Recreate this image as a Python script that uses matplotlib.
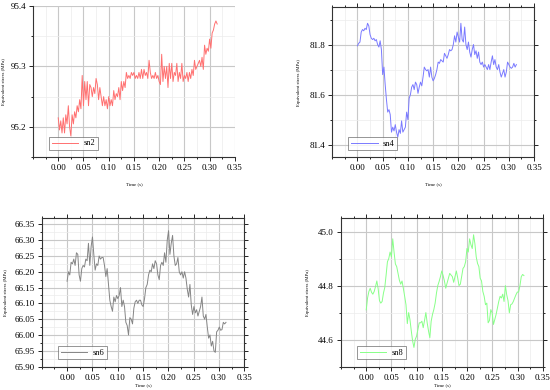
import matplotlib
matplotlib.use('Agg')
import matplotlib.pyplot as plt
import numpy as np
from matplotlib.ticker import MultipleLocator, FormatStrFormatter

plt.rcParams['font.family'] = ['Liberation Serif', 'DejaVu Serif']

# equivalent stress at point sn2 (MPa)
sn2 = [95.215, 95.195, 95.21, 95.19, 95.215, 95.19, 95.22, 95.205, 95.235, 95.20,
       95.185, 95.22, 95.205, 95.225, 95.215, 95.235, 95.225, 95.245, 95.23, 95.285,
       95.235, 95.275, 95.245, 95.275, 95.235, 95.27, 95.265, 95.25, 95.265, 95.255,
       95.28, 95.27, 95.245, 95.265, 95.25, 95.235, 95.25, 95.235, 95.245, 95.23,
       95.25, 95.235, 95.245, 95.235, 95.26, 95.245, 95.255, 95.25, 95.265, 95.245,
       95.275, 95.26, 95.275, 95.265, 95.29, 95.28, 95.285, 95.28, 95.29, 95.285,
       95.29, 95.28, 95.285, 95.28, 95.29, 95.28, 95.295, 95.28, 95.295, 95.285,
       95.29, 95.28, 95.31, 95.29, 95.28, 95.285, 95.28, 95.29, 95.28, 95.285,
       95.275, 95.27, 95.32, 95.275, 95.30, 95.28, 95.30, 95.265, 95.305, 95.28,
       95.305, 95.275, 95.29, 95.285, 95.305, 95.275, 95.29, 95.28, 95.305, 95.275,
       95.285, 95.28, 95.29, 95.275, 95.29, 95.28, 95.295, 95.285, 95.31, 95.295,
       95.30, 95.305, 95.31, 95.30, 95.315, 95.295, 95.335, 95.32, 95.33, 95.325,
       95.345, 95.33, 95.355, 95.36, 95.37, 95.375, 95.37]

sn4 = [81.795, 81.805, 81.81, 81.85, 81.86, 81.855, 81.865, 81.86, 81.885, 81.875,
       81.84, 81.825, 81.82, 81.825, 81.815, 81.82, 81.80, 81.79, 81.815, 81.78,
       81.68, 81.71, 81.64, 81.58, 81.53, 81.54, 81.52, 81.45, 81.47, 81.455,
       81.48, 81.45, 81.43, 81.46, 81.445, 81.495, 81.45, 81.46, 81.47, 81.53,
       81.50, 81.585, 81.60, 81.63, 81.64, 81.62, 81.65, 81.64, 81.605, 81.63,
       81.65, 81.635, 81.67, 81.71, 81.70, 81.695, 81.70, 81.67, 81.71, 81.67,
       81.655, 81.665, 81.68, 81.70, 81.73, 81.725, 81.74, 81.735, 81.73, 81.765,
       81.755, 81.745, 81.76, 81.78, 81.775, 81.78, 81.80, 81.835, 81.81, 81.85,
       81.83, 81.81, 81.885, 81.82, 81.81, 81.87, 81.80, 81.78, 81.81, 81.77,
       81.75, 81.78, 81.80, 81.76, 81.775, 81.745, 81.77, 81.73, 81.72, 81.73,
       81.71, 81.72, 81.71, 81.70, 81.72, 81.70, 81.73, 81.755, 81.72, 81.74,
       81.71, 81.70, 81.72, 81.69, 81.67, 81.685, 81.70, 81.67, 81.69, 81.73,
       81.72, 81.71, 81.705, 81.71, 81.725, 81.71, 81.72]

sn6 = [66.17, 66.20, 66.19, 66.23, 66.225, 66.24, 66.22, 66.26, 66.255, 66.19,
       66.17, 66.21, 66.22, 66.215, 66.24, 66.235, 66.29, 66.22, 66.28, 66.31,
       66.255, 66.205, 66.225, 66.22, 66.25, 66.24, 66.245, 66.245, 66.22, 66.185,
       66.21, 66.16, 66.11, 66.09, 66.075, 66.12, 66.105, 66.125, 66.115, 66.125,
       66.15, 66.09, 66.11, 66.09, 66.04, 66.03, 66.00, 66.055, 66.05, 66.035,
       66.085, 66.105, 66.11, 66.10, 66.11, 66.11, 66.095, 66.09, 66.115, 66.15,
       66.16, 66.19, 66.205, 66.20, 66.225, 66.21, 66.235, 66.225, 66.19, 66.175,
       66.22, 66.23, 66.22, 66.26, 66.23, 66.30, 66.33, 66.255, 66.29, 66.315,
       66.25, 66.22, 66.225, 66.245, 66.20, 66.19, 66.20, 66.18, 66.20, 66.18,
       66.145, 66.12, 66.16, 66.095, 66.065, 66.09, 66.07, 66.08, 66.06, 66.075,
       66.09, 66.12, 66.06, 66.05, 66.065, 66.025, 65.99, 66.00, 65.965, 65.98,
       65.95, 65.945, 66.01, 66.015, 66.025, 66.015, 66.017, 66.04, 66.035, 66.04]

sn8 = [44.71, 44.754, 44.778, 44.79, 44.775, 44.768, 44.778, 44.796, 44.817, 44.788,
       44.744, 44.735, 44.741, 44.772, 44.793, 44.839, 44.888, 44.90, 44.924, 44.906,
       44.973, 44.924, 44.88, 44.87, 44.845, 44.82, 44.805, 44.817, 44.79, 44.76,
       44.729, 44.659, 44.70, 44.674, 44.632, 44.595, 44.571, 44.601, 44.613, 44.638,
       44.662, 44.662, 44.668, 44.644, 44.671, 44.70, 44.662, 44.632, 44.607, 44.668,
       44.693, 44.711, 44.735, 44.772, 44.80, 44.815, 44.833, 44.854, 44.837, 44.817,
       44.79, 44.809, 44.827, 44.845, 44.839, 44.833, 44.812, 44.833, 44.854, 44.829,
       44.80, 44.805, 44.833, 44.863, 44.87, 44.888, 44.937, 44.924, 44.973, 44.951,
       44.937, 44.988, 44.955, 44.906, 44.882, 44.87, 44.827, 44.817, 44.778, 44.76,
       44.729, 44.735, 44.662, 44.671, 44.711, 44.699, 44.656, 44.674, 44.693, 44.717,
       44.741, 44.76, 44.754, 44.768, 44.741, 44.80, 44.766, 44.744, 44.699, 44.729,
       44.732, 44.741, 44.754, 44.766, 44.776, 44.776, 44.80, 44.833, 44.841, 44.837]

t_end = {'sn2': 0.315, 'sn4': 0.315, 'sn6': 0.314, 'sn8': 0.3125}
time_ticks = [0.0, 0.05, 0.10, 0.15, 0.20, 0.25, 0.30, 0.35]

fig = plt.figure(figsize=(5.5, 3.9), dpi=100)

panels = [
    ('sn2', sn2, '#ff7070', [0.060, 0.597, 0.367, 0.388], (95.15, 95.4), 0.1, 0.05, '%.1f', 3, 7),
    ('sn4', sn4, '#7a7aff', [0.604, 0.597, 0.367, 0.385], (81.35, 81.95), 0.2, 0.1, '%.1f', 6, 7),
    ('sn6', sn6, '#858585', [0.076, 0.060, 0.368, 0.381], (65.90, 66.37), 0.05, 0.025, '%.2f', 5, 1),
    ('sn8', sn8, '#88ff88', [0.620, 0.060, 0.367, 0.381], (44.5, 45.05), 0.2, 0.1, '%.1f', 6, 1),
]

for name, vals, col, rect, ylim, ymaj, ymin, fmt, ypad, xpad in panels:
    ax = fig.add_axes(rect)
    t = np.linspace(0, t_end[name], len(vals))
    ax.plot(t, vals, color=col, lw=0.7, label=name)
    ax.set_xlim(-0.05, 0.35)
    ax.set_ylim(*ylim)
    ax.set_xticks(time_ticks)
    ax.xaxis.set_minor_locator(MultipleLocator(0.025))
    ax.yaxis.set_major_locator(MultipleLocator(ymaj))
    ax.yaxis.set_minor_locator(MultipleLocator(ymin))
    ax.xaxis.set_major_formatter(FormatStrFormatter('%.2f'))
    ax.yaxis.set_major_formatter(FormatStrFormatter(fmt))
    ax.grid(True, which='major', color='#c8c8c8', lw=0.8)
    ax.grid(True, which='minor', color='#ececec', lw=0.5)
    ax.set_axisbelow(True)
    ax.tick_params(which='both', direction='out', labelsize=6.5, width=0.6, pad=2)
    ax.tick_params(which='major', length=3)
    ax.tick_params(which='minor', length=1.5)
    for s in ax.spines.values():
        s.set_linewidth(0.8)
        s.set_color('#333333')
    if name == 'sn2':
        ax.spines['top'].set_visible(False)
        ax.spines['right'].set_visible(False)
    else:
        ax.tick_params(which='both', top=True, right=True)
    ax.set_xlabel('Time (s)', fontsize=3.5, labelpad=xpad)
    ax.set_ylabel('Equivalent stress (MPa)', fontsize=3.5, labelpad=ypad)
    leg = ax.legend(loc='lower left', bbox_to_anchor=(0.06, 0.02), fontsize=6,
                    frameon=True, fancybox=False, handlelength=3.2,
                    borderpad=0.3, handletextpad=0.6)
    leg.get_frame().set_edgecolor('#666666')
    leg.get_frame().set_linewidth(0.6)

fig.savefig('out.png', dpi=100)
